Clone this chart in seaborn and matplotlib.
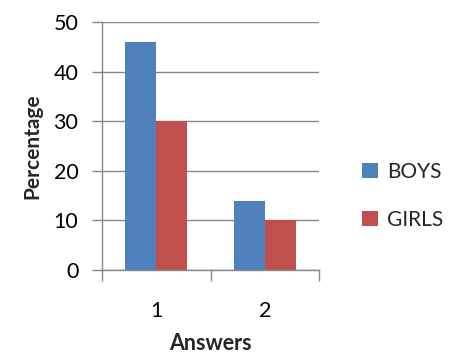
import matplotlib
matplotlib.use("Agg")
import matplotlib.pyplot as plt
import seaborn as sns
import pandas as pd
from matplotlib.patches import Patch
from matplotlib.ticker import FixedLocator

answers = ["1", "2"]
boys = [46, 14]
girls = [30, 10]
series = ["BOYS", "GIRLS"]
colors = ["#4F81BD", "#C0504D"]

df = pd.DataFrame({
    "Answers": answers * 2,
    "Percentage": boys + girls,
    "Group": [series[0]] * len(answers) + [series[1]] * len(answers),
})

sns.set_theme(style="white")
plt.rcParams["font.family"] = ["Lato", "DejaVu Sans"]

fig = plt.figure(figsize=(4.61, 3.56), dpi=100)
ax = fig.add_axes([0.2213, 0.2416, 0.4707, 0.6966])

sns.barplot(data=df, x="Answers", y="Percentage", hue="Group",
            palette=colors, width=0.57, gap=0, saturation=1,
            linewidth=0, ax=ax, legend=False)

grid_c = "#868686"
ax.set_ylim(0, 50)
ax.set_xlim(-0.5, 1.5)
ax.set_yticks([0, 10, 20, 30, 40, 50])
ax.yaxis.grid(True, color=grid_c, linewidth=1)
ax.set_axisbelow(True)
for s in ["top", "right"]:
    ax.spines[s].set_visible(False)
for s in ["left", "bottom"]:
    ax.spines[s].set_color(grid_c)
    ax.spines[s].set_linewidth(1)

ax.tick_params(axis="y", which="major", left=True, length=7, width=1,
               color=grid_c, labelsize=15.5, pad=10, labelcolor="black")
ax.tick_params(axis="x", which="major", bottom=False, labelsize=15.5,
               pad=16, labelcolor="black")
ax.xaxis.set_minor_locator(FixedLocator([-0.5, 0.5, 1.5]))
ax.tick_params(axis="x", which="minor", bottom=True, length=8, width=1,
               color=grid_c)

ax.set_xlabel("Answers", fontsize=15.5, fontweight="bold", labelpad=9)
ax.set_ylabel("Percentage", fontsize=15, fontweight="bold", labelpad=8)

handles = [Patch(facecolor=c, edgecolor="none") for c in colors]
fig.legend(handles, series, loc="center left",
           bbox_to_anchor=(0.745, 0.45), frameon=False, fontsize=15,
           handlelength=0.75, handleheight=0.75, handletextpad=0.45,
           labelspacing=1.35)

fig.savefig("out.png", dpi=100, facecolor="white")
